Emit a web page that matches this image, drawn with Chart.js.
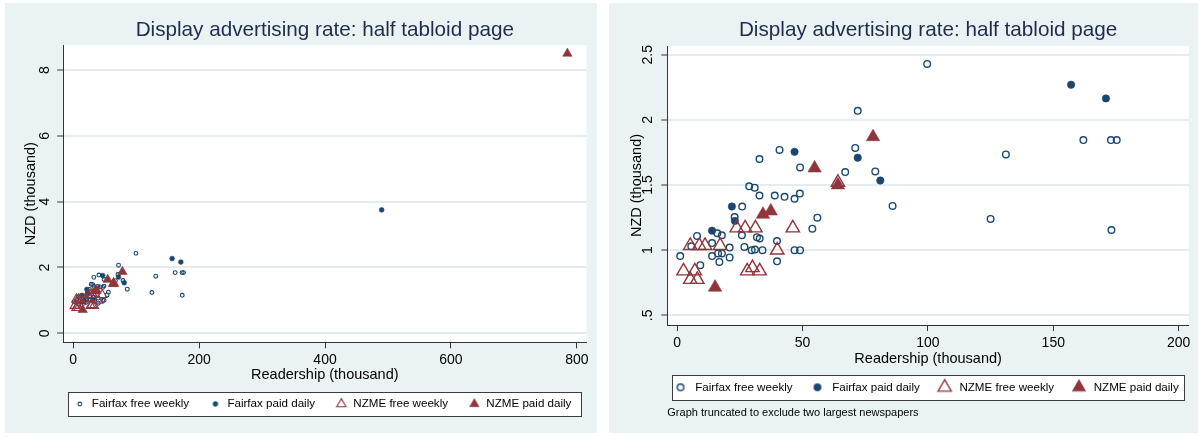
<!DOCTYPE html>
<html>
<head>
<meta charset="utf-8">
<title>Display advertising rate: half tabloid page</title>
<script src="https://cdn.jsdelivr.net/npm/chart.js@4.4.1/dist/chart.umd.min.js"></script>
<style>
  html, body { margin: 0; padding: 0; background: #ffffff; width: 1202px; height: 437px; overflow: hidden; }
  .panel { position: absolute; top: 3px; height: 430px; background: #eaf2f3; }
  #panelFull { left: 5px; width: 592px; }
  #panelZoom { left: 609px; width: 589px; }
  canvas { display: block; }
</style>
</head>
<body>
<div class="panel" id="panelFull"><canvas id="chartFull" width="592" height="430"></canvas></div>
<div class="panel" id="panelZoom"><canvas id="chartZoom" width="589" height="430"></canvas></div>
<script>
// ---- text ----
const chartTitle = 'Display advertising rate: half tabloid page';
const xAxisTitle = 'Readership (thousand)';
const yAxisTitle = 'NZD (thousand)';
const seriesNames = ['Fairfax free weekly', 'Fairfax paid daily', 'NZME free weekly', 'NZME paid daily'];
const truncationNote = 'Graph truncated to exclude two largest newspapers';

// ---- data: [readership (thousand), half-page rate (NZD thousand)] ----
const fairfaxFreeWeekly = [
  [99.7, 2.43], [72.0, 2.07], [40.8, 1.77], [32.8, 1.70], [71.0, 1.785], [49.0, 1.635],
  [67.0, 1.60], [79.0, 1.605], [28.7, 1.49], [30.9, 1.48], [32.8, 1.42], [38.9, 1.42],
  [42.8, 1.41], [46.8, 1.395], [48.9, 1.435], [85.9, 1.34], [25.9, 1.335], [22.9, 1.255],
  [55.9, 1.25], [53.9, 1.165], [16.0, 1.13], [17.8, 1.115], [7.9, 1.11], [25.8, 1.115],
  [13.9, 1.055], [31.8, 1.10], [32.9, 1.09], [39.8, 1.07], [5.6, 1.03], [20.9, 1.02],
  [26.8, 1.025], [29.7, 1.0], [31.0, 1.005], [34.0, 1.0], [46.8, 1.0], [49.0, 1.0],
  [1.2, 0.955], [13.9, 0.955], [16.3, 0.975], [17.8, 0.975], [20.9, 0.945], [16.8, 0.91],
  [39.8, 0.915], [9.2, 0.885], [162.0, 1.845], [173.0, 1.845], [175.3, 1.845],
  [131.1, 1.735], [125.0, 1.24], [173.2, 1.155]
];
const fairfaxPaidDaily = [
  [46.8, 1.755], [72.0, 1.71], [81.0, 1.535], [21.8, 1.335], [23.0, 1.225], [13.9, 1.15],
  [157.1, 2.27], [171.0, 2.165], [490.0, 3.75]
];
const nzmeFreeWeekly = [
  [5.2, 1.035], [8.8, 1.035], [11.1, 1.035], [17.1, 1.035], [23.7, 1.17], [27.1, 1.17],
  [31.2, 1.17], [46.1, 1.17], [39.9, 1.0], [2.5, 0.84], [7.0, 0.84], [5.2, 0.775],
  [8.0, 0.775], [27.9, 0.84], [30.0, 0.865], [32.9, 0.84], [64.1, 1.52]
];
const nzmePaidDaily = [
  [78.1, 1.87], [54.8, 1.63], [64.1, 1.50], [34.2, 1.275], [37.3, 1.30], [15.1, 0.715],
  [785.0, 8.5]
];

// ---- axis ticks ----
const fullXTicks = [0, 200, 400, 600, 800];
const fullYTicks = [0, 2, 4, 6, 8];
const fullYTickLabels = ['0', '2', '4', '6', '8'];
const zoomXTicks = [0, 50, 100, 150, 200];
const zoomYTicks = [0.5, 1, 1.5, 2, 2.5];
const zoomYTickLabels = ['.5', '1', '1.5', '2', '2.5'];
const zoomReadershipLimit = 200;   // the truncated panel leaves out the two largest papers

// ---- look ----
const NAVY = '#1a476f';
const MAROON = '#90353b';
const INK = '#000000';
const AXIS = '#333333';
const GRID = '#e3ecee';
const TITLE_INK = '#1f2c4c';
const FONT = "'Liberation Sans', Arial, Helvetica, sans-serif";
Chart.defaults.font.family = FONT;

const seriesColors = [NAVY, NAVY, MAROON, MAROON];
const markerStyles = {
  full: [
    { pointStyle: 'circle', radius: 1.9, borderWidth: 1.1, filled: false },
    { pointStyle: 'circle', radius: 2.4, borderWidth: 0.6, filled: true },
    { pointStyle: 'triangle', radius: 5.4, borderWidth: 1.1, filled: false },
    { pointStyle: 'triangle', radius: 5.4, borderWidth: 0.6, filled: true }
  ],
  zoom: [
    { pointStyle: 'circle', radius: 3.3, borderWidth: 1.4, filled: false },
    { pointStyle: 'circle', radius: 3.7, borderWidth: 0.6, filled: true },
    { pointStyle: 'triangle', radius: 7.7, borderWidth: 1.4, filled: false },
    { pointStyle: 'triangle', radius: 7.7, borderWidth: 0.6, filled: true }
  ]
};

// small canvas with one marker, used as the legend symbol
function markerIcon(style, color) {
  const half = Math.ceil(style.radius + style.borderWidth) + 2;
  const c = document.createElement('canvas');
  c.width = c.height = half * 2;
  const ctx = c.getContext('2d');
  ctx.fillStyle = style.filled ? color : 'rgba(0,0,0,0)';
  ctx.strokeStyle = color;
  ctx.lineWidth = style.borderWidth;
  Chart.helpers.drawPoint(ctx, {
    pointStyle: style.pointStyle, radius: style.radius,
    borderWidth: style.borderWidth, rotation: 0
  }, half, half);
  return c;
}

// white plot region, framed legend, legend centred under the plot
const panelDecor = {
  id: 'panelDecor',
  afterLayout(chart, args, opts) {
    const lg = chart.legend, ca = chart.chartArea;
    const w = lg.right - lg.left;
    const c = (ca.left + ca.right) / 2 + opts.legendShift;
    lg.left = c - w / 2;
    lg.right = c + w / 2;
  },
  beforeDraw(chart, args, opts) {
    const { ctx, chartArea: ca, legend: lg } = chart;
    ctx.save();
    ctx.fillStyle = '#ffffff';
    ctx.fillRect(ca.left, ca.top, ca.right - ca.left, ca.bottom - ca.top);
    const hb = lg.legendHitBoxes[0];
    const cy = hb.top + hb.height / 2;
    const x0 = Math.round(ca.left + 5) + 0.5;
    const x1 = Math.round(ca.right - 5.4) + 0.5;
    const y0 = Math.round(cy - 12.3) + 0.5;
    const y1 = Math.round(cy + 12.3) + 0.5;
    ctx.fillRect(x0, y0, x1 - x0, y1 - y0);
    ctx.strokeStyle = '#3c3c3c';
    ctx.lineWidth = 1;
    ctx.strokeRect(x0, y0, x1 - x0, y1 - y0);
    ctx.restore();
  }
};

function buildChart(p) {
  const seriesData = [fairfaxFreeWeekly, fairfaxPaidDaily, nzmeFreeWeekly, nzmePaidDaily]
    .map(rows => rows
      .filter(r => p.limit == null || r[0] <= p.limit)
      .map(([x, y]) => ({ x, y })));
  const icons = p.markers.map((m, i) => markerIcon(m, seriesColors[i]));

  const datasets = seriesData.map((data, i) => {
    const m = p.markers[i];
    return {
      label: seriesNames[i],
      data,
      order: seriesData.length - 1 - i,   // later series drawn on top
      pointStyle: m.pointStyle,
      pointRadius: m.radius,
      pointBorderWidth: m.borderWidth,
      pointBorderColor: seriesColors[i],
      pointBackgroundColor: m.filled ? seriesColors[i] : 'rgba(0,0,0,0)',
      showLine: false
    };
  });

  return new Chart(document.getElementById(p.id), {
    type: 'scatter',
    data: { datasets },
    options: {
      responsive: false,
      animation: false,
      devicePixelRatio: 1,
      events: [],
      layout: { padding: p.layoutPad },
      scales: {
        x: {
          type: 'linear', position: 'bottom', bounds: 'data',
          min: p.xMin, max: p.xMax,
          afterBuildTicks: s => { s.ticks = p.xTicks.map(v => ({ value: v })); },
          afterFit: s => { s.height = p.xAxisHeight; },
          ticks: {
            autoSkip: false, minRotation: 0, maxRotation: 0, padding: p.xLabelPad,
            color: INK, font: { size: 14 }, callback: v => String(v)
          },
          grid: { drawOnChartArea: false, drawTicks: true, tickLength: 6, tickColor: AXIS, tickWidth: 1, color: AXIS },
          border: { display: true, color: AXIS, width: 1 },
          title: {
            display: true, text: xAxisTitle, color: INK,
            font: { size: 14.5, lineHeight: 1.2 }, padding: { top: 0, bottom: p.xTitlePad }
          }
        },
        y: {
          type: 'linear', position: 'left', bounds: 'data',
          min: p.yMin, max: p.yMax,
          afterBuildTicks: s => { s.ticks = p.yTicks.map(v => ({ value: v })); },
          afterFit: s => { s.width = p.yAxisWidth; },
          ticks: {
            autoSkip: false, minRotation: 90, maxRotation: 90, crossAlign: 'center',
            padding: p.yLabelPad, color: INK, font: { size: 14 },
            callback: v => p.yLabels[p.yTicks.indexOf(v)]
          },
          grid: { color: GRID, lineWidth: 2, drawTicks: true, tickLength: 6, tickColor: AXIS, tickWidth: 1 },
          border: { display: true, color: AXIS, width: 1 },
          title: {
            display: true, text: yAxisTitle, color: INK,
            font: { size: 14.5, lineHeight: 1.2 }, padding: { top: p.yTitlePad, bottom: 0 }
          }
        }
      },
      plugins: {
        tooltip: { enabled: false },
        title: {
          display: true, text: chartTitle, fullSize: false, color: TITLE_INK,
          font: { size: 20.7, weight: 'normal', lineHeight: 1.2 }, padding: p.titlePad
        },
        subtitle: {
          display: !!p.note, text: p.note || '', position: 'bottom', align: 'start', fullSize: false,
          color: INK, font: { size: 11, weight: 'normal', lineHeight: 1.2 }, padding: p.notePad
        },
        legend: {
          display: true, position: 'bottom', align: 'center', fullSize: true,
          labels: {
            usePointStyle: true, pointStyleWidth: p.legendBoxW, padding: p.legendPad,
            color: INK, font: { size: 11.6 },
            generateLabels: chart => chart.data.datasets.map((ds, i) => ({
              text: ds.label, pointStyle: icons[i], datasetIndex: i, hidden: false,
              fillStyle: 'rgba(0,0,0,0)', strokeStyle: 'rgba(0,0,0,0)', lineWidth: 0, fontColor: INK
            }))
          }
        },
        panelDecor: { legendShift: p.legendShift }
      }
    },
    plugins: [panelDecor]
  });
}

// all newspapers
buildChart({
  id: 'chartFull', limit: null, markers: markerStyles.full,
  xMin: -15.9, xMax: 815.2, yMin: -0.273, yMax: 8.758,
  xTicks: fullXTicks, yTicks: fullYTicks, yLabels: fullYTickLabels,
  yAxisWidth: 58.2, yLabelPad: 8.3, yTitlePad: 16.8,
  xAxisHeight: 35.8, xLabelPad: 3.3, xTitlePad: -5.6,
  titlePad: { top: 15.3, bottom: 1.9 },
  legendPad: 20.1, legendBoxW: 12.4, legendShift: -2.3,
  layoutPad: { left: 0, right: 10.6, top: 0, bottom: 13.2 },
  note: null, notePad: { top: 0, bottom: 0 }
});

// truncated to readership up to 200 thousand
buildChart({
  id: 'chartZoom', limit: zoomReadershipLimit, markers: markerStyles.zoom,
  xMin: -3.96, xMax: 204.1, yMin: 0.426, yMax: 2.567,
  xTicks: zoomXTicks, yTicks: zoomYTicks, yLabels: zoomYTickLabels,
  yAxisWidth: 58.3, yLabelPad: 3.3, yTitlePad: 19,
  xAxisHeight: 40.5, xLabelPad: 3.6, xTitlePad: -2.0,
  titlePad: { top: 15.3, bottom: 2.9 },
  legendPad: 16, legendBoxW: 17.8, legendShift: -2.9,
  layoutPad: { left: 0, right: 6.3, top: 0, bottom: 13.1 },
  note: truncationNote, notePad: { top: 3.6, bottom: 0 }
});
</script>
</body>
</html>
